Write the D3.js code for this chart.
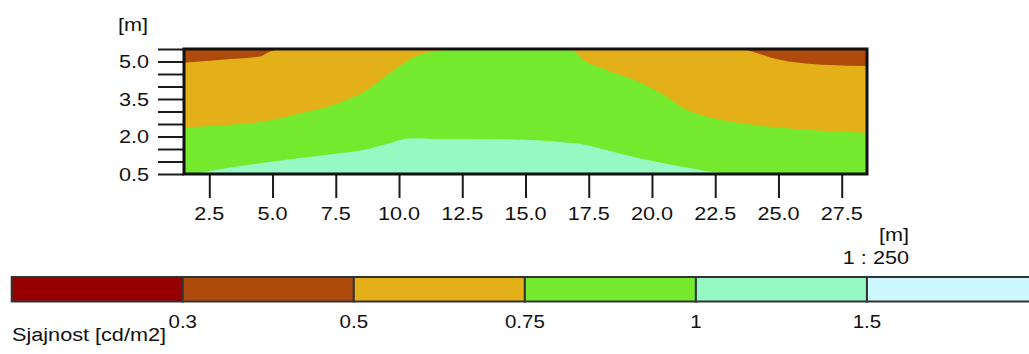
<!DOCTYPE html>
<html><head><meta charset="utf-8">
<script src="https://cdn.jsdelivr.net/npm/d3@7"></script>
<style>html,body{margin:0;padding:0;background:#fff;overflow:hidden}</style>
</head><body><svg id="c" width="1029" height="354"></svg>
<script>
// ---- data ----
const xTicks = [2.5, 5.0, 7.5, 10.0, 12.5, 15.0, 17.5, 20.0, 22.5, 25.0, 27.5];
const yTicks = [0.5, 1.0, 1.5, 2.0, 2.5, 3.0, 3.5, 4.0, 4.5, 5.0, 5.5];
const yLabels = [0.5, 2.0, 3.5, 5.0];
const levelLabels = ["0.3", "0.5", "0.75", "1", "1.5"];
const levelColors = ["#960000", "#AE4A0C", "#E3B01A", "#74E92E", "#96F8C2", "#CCF8FE"];

// contour lines [x m, y m]
const brownLeft = [[1.5, 4.95], [3.0, 5.07], [4.5, 5.2], [4.9, 5.4], [5.2, 5.5]];
const brownRight = [[23.6, 5.5], [24.2, 5.32], [24.9, 5.1], [25.9, 4.94], [27.0, 4.86], [28.5, 4.82]];
const goldLeft = [[1.5, 2.36], [3.0, 2.45], [4.5, 2.58], [6.0, 2.9], [7.7, 3.37], [8.5, 3.72],
                  [9.3, 4.28], [10.0, 4.8], [10.6, 5.18], [11.5, 5.42], [12.5, 5.5]];
const goldRight = [[16.6, 5.5], [17.0, 5.35], [17.3, 5.06], [18.0, 4.74], [19.4, 4.22], [20.3, 3.76],
                   [21.4, 3.06], [22.3, 2.76], [23.2, 2.58], [25.2, 2.34], [28.5, 2.15]];
const mintLine = [[1.9, 0.5], [2.2, 0.56], [4.5, 0.93], [7.4, 1.3], [8.6, 1.46], [9.5, 1.7], [10.5, 1.93],
                  [11.4, 1.9], [14.0, 1.89], [16.6, 1.76], [17.2, 1.7], [18.2, 1.46], [19.5, 1.13],
                  [21.2, 0.79], [22.8, 0.53], [23.3, 0.5]];

// ---- drawing ----
const svg = d3.select("#c");
const x = d3.scaleLinear([1.5, 28.5], [184, 867]);
const y = d3.scaleLinear([0.5, 5.5], [174, 49]);
const SX = 1.14;
const FONT = "'Liberation Sans', Arial, sans-serif";

function label(g, px, py, str, anchor, size) {
  g.append("text")
    .attr("transform", `translate(${px},${py}) scale(${SX},1)`)
    .attr("text-anchor", anchor)
    .attr("font-family", FONT)
    .attr("font-size", size)
    .attr("fill", "#111")
    .text(str);
}

svg.append("defs").append("clipPath").attr("id", "plotclip")
  .append("rect").attr("x", x(1.5)).attr("y", y(5.5))
  .attr("width", x(28.5) - x(1.5)).attr("height", y(0.5) - y(5.5));

const plot = svg.append("g").attr("clip-path", "url(#plotclip)");
plot.append("rect").attr("x", x(1.5)).attr("y", y(5.5))
  .attr("width", x(28.5) - x(1.5)).attr("height", y(0.5) - y(5.5))
  .attr("fill", levelColors[3]);

const topArea = d3.area().x(d => x(d[0])).y0(y(5.5)).y1(d => y(d[1])).curve(d3.curveMonotoneX);
const botArea = d3.area().x(d => x(d[0])).y0(y(0.5)).y1(d => y(d[1])).curve(d3.curveMonotoneX);

plot.append("path").attr("d", topArea(goldLeft)).attr("fill", levelColors[2]);
plot.append("path").attr("d", topArea(goldRight)).attr("fill", levelColors[2]);
plot.append("path").attr("d", topArea(brownLeft)).attr("fill", levelColors[1]);
plot.append("path").attr("d", topArea(brownRight)).attr("fill", levelColors[1]);
plot.append("path").attr("d", botArea(mintLine)).attr("fill", levelColors[4]);

// axes ticks
const yAxis = svg.append("g").attr("transform", `translate(${x(1.5)},0)`)
  .call(d3.axisLeft(y).tickValues(yTicks).tickSize(26).tickFormat(""));
const xAxis = svg.append("g").attr("transform", `translate(0,${y(0.5)})`)
  .call(d3.axisBottom(x).tickValues(xTicks).tickSize(24).tickFormat(""));
[yAxis, xAxis].forEach(a => {
  a.select(".domain").remove();
  a.selectAll(".tick line").attr("stroke", "#1a1a1a").attr("stroke-width", 2);
});

// frame
svg.append("rect").attr("x", x(1.5)).attr("y", y(5.5))
  .attr("width", x(28.5) - x(1.5)).attr("height", y(0.5) - y(5.5))
  .attr("fill", "none").attr("stroke", "#111").attr("stroke-width", 3);

// labels
const tg = svg.append("g");
yLabels.forEach(v => label(tg, 149, y(v) + 6.8, v.toFixed(1), "end", 19));
xTicks.forEach(v => label(tg, x(v), 220, v.toFixed(1), "middle", 19));
label(tg, 118, 31, "[m]", "start", 19);
label(tg, 909, 241, "[m]", "end", 19);
label(tg, 909, 264, "1 : 250", "end", 19);

// legend
const lx = d3.scaleBand().domain(d3.range(levelColors.length)).range([11.7, 1038]).padding(0);
const lg = svg.append("g");
lg.selectAll("rect.seg").data(levelColors).join("rect").attr("class", "seg")
  .attr("x", (d, i) => lx(i)).attr("y", 277).attr("width", lx.bandwidth()).attr("height", 24.5)
  .attr("fill", d => d).attr("stroke", "#333").attr("stroke-width", 2);
levelLabels.forEach((t, i) => label(lg, lx(i + 1), 328, t, "middle", 18));
label(lg, 12, 341, "Sjajnost [cd/m2]", "start", 19);
</script>
</body></html>
